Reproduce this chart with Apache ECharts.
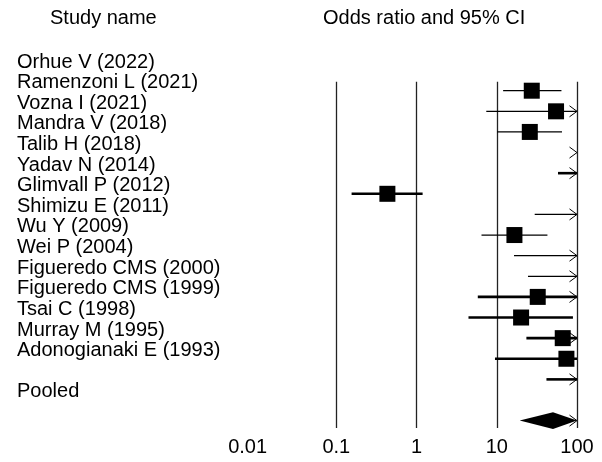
<!DOCTYPE html>
<html><head><meta charset="utf-8">
<script src="https://cdn.jsdelivr.net/npm/echarts@6/dist/echarts.min.js"></script>
<style>html,body{margin:0;padding:0;background:#fff}#c{width:602px;height:462px}</style>
</head><body><div id="c"></div>
<script>
// ---------- data ----------
const studies = [
  'Orhue V (2022)', 'Ramenzoni L (2021)', 'Vozna I (2021)', 'Mandra V (2018)',
  'Talib H (2018)', 'Yadav N (2014)', 'Glimvall P (2012)', 'Shimizu E (2011)',
  'Wu Y (2009)', 'Wei P (2004)', 'Figueredo CMS (2000)', 'Figueredo CMS (1999)',
  'Tsai C (1998)', 'Murray M (1995)', 'Adonogianaki E (1993)'
];
const pooledLabel = 'Pooled';
// odds ratios and 95% CI bounds (values beyond 100 are off the plotted scale, estimated)
const oddsRatio = [27.3, 54.8, 25.8, 150, 200, 0.433, 120, 16.6, 150, 150, 32.4, 20.1, 66.4, 73.8, 150];
const lowerCI   = [12.0, 7.4, 10.1, 100, 58, 0.155, 29.7, 6.45, 16.4, 24.5, 5.8, 4.44, 23.4, 9.5, 41.6];
const upperCI   = [64, 400, 65, 900, 700, 1.19, 800, 42.8, 900, 900, 180, 89, 190, 100, 1500];
const pooledOR = [50.2];
const pooledLower = [19.3];
const pooledUpper = [130];
const tickLabels = ['0.01', '0.1', '1', '10', '100'];
const axisMin = 0.01, axisMax = 100;

// ---------- rendering ----------
const FONT = '"Liberation Sans", Arial, Helvetica, sans-serif';
const FS = 20;
const ROW = 20.62;
const thickRows = new Set([4, 5, 10, 11, 12, 13, 14]);
const pooledRow = studies.length + 1;
const labelRows = studies.concat(['', pooledLabel]);

const plotData = studies.map((s, i) => [lowerCI[i], i, oddsRatio[i], upperCI[i], 0]);
plotData.push([pooledLower[0], pooledRow, pooledOR[0], pooledUpper[0], 1]);

const plotTop = 81.7, plotBottom = 428, firstRowY = 90.7;

function renderItem(params, api) {
  const lo = api.value(0), row = api.value(1), or = api.value(2), hi = api.value(3), kind = api.value(4);
  const y = api.coord([1, row])[1];
  const xMax = api.coord([axisMax, row])[0];
  const xLo = Math.min(api.coord([lo, row])[0], xMax);
  const xHi = Math.min(api.coord([hi, row])[0], xMax);
  const children = [];
  if (kind === 1) {
    const xo = api.coord([or, row])[0];
    children.push({ type: 'polygon', shape: { points: [[xLo, y], [xo, y - 8.3], [xHi, y], [xo, y + 8.3]] }, style: { fill: '#000' } });
  } else {
    children.push({ type: 'line', shape: { x1: xLo, y1: y, x2: xHi, y2: y },
      style: { stroke: '#000', lineWidth: thickRows.has(row) ? 2.6 : 1.3 } });
    if (or <= axisMax) {
      const xo = api.coord([or, row])[0];
      children.push({ type: 'rect', shape: { x: xo - 8, y: y - 8, width: 16, height: 16 }, style: { fill: '#000' } });
    }
  }
  if (hi > axisMax) {
    children.push({ type: 'polyline', shape: { points: [[xMax - 7.5, y - 5.5], [xMax, y], [xMax - 7.5, y + 5.5]] },
      style: { stroke: '#000', lineWidth: 1, fill: null } });
  }
  return { type: 'group', children };
}

const chart = echarts.init(document.getElementById('c'), null, { renderer: 'canvas' });
chart.setOption({
  animation: false,
  backgroundColor: '#fff',
  textStyle: { fontFamily: FONT },
  title: [
    { text: 'Study name', left: 50, top: 8, padding: 0, textStyle: { fontFamily: FONT, fontSize: FS, fontWeight: 'normal', color: '#000' } },
    { text: 'Odds ratio and 95% CI', left: 323, top: 8, padding: 0, textStyle: { fontFamily: FONT, fontSize: FS, fontWeight: 'normal', color: '#000' } }
  ],
  grid: [
    { left: 256.1, width: 320.9, top: plotTop, height: plotBottom - plotTop },
    { left: 17, width: 1, top: 62 - ROW / 2, height: labelRows.length * ROW }
  ],
  xAxis: [
    { gridIndex: 0, type: 'log', logBase: 10, min: axisMin, max: axisMax,
      axisLine: { show: false }, axisTick: { show: false },
      splitLine: { show: true, showMinLine: false, showMaxLine: true, lineStyle: { color: '#222', width: 1.3 } },
      axisLabel: { show: true, margin: 9, color: '#000', fontSize: FS, fontFamily: FONT, showMinLabel: true, showMaxLabel: true,
        formatter: v => {
          const idx = Math.round(Math.log10(v)) + 2;
          const t = tickLabels[idx];
          return idx === 0 ? '{s|' + t + '}' : t;
        },
        rich: { s: { fontSize: FS, fontFamily: FONT, color: '#000', padding: [0, 17, 0, 0] } }
      } },
    { gridIndex: 1, type: 'value', show: false, min: 0, max: 1 }
  ],
  yAxis: [
    { gridIndex: 0, type: 'value', inverse: true, show: false,
      min: -(firstRowY - plotTop) / ROW, max: (plotBottom - firstRowY) / ROW },
    { gridIndex: 1, type: 'category', inverse: true, data: labelRows,
      axisLine: { show: false }, axisTick: { show: false }, splitLine: { show: false },
      axisLabel: { interval: 0, align: 'left', margin: 0, color: '#000', fontSize: FS, fontFamily: FONT } }
  ],
  series: [
    { type: 'custom', xAxisIndex: 0, yAxisIndex: 0, renderItem, data: plotData, encode: { x: 0, y: 1 }, clip: false }
  ]
});
</script></body></html>
